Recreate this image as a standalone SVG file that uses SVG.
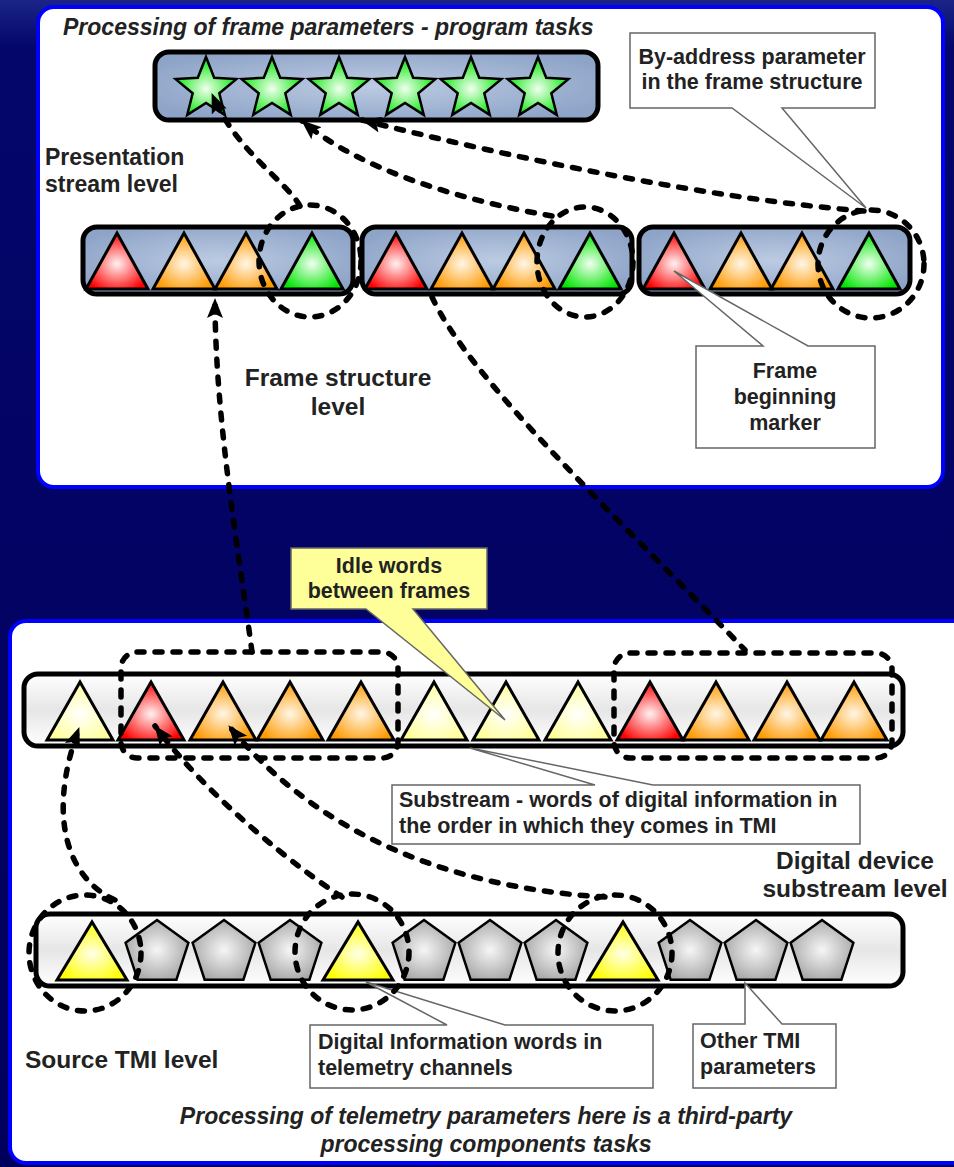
<svg xmlns="http://www.w3.org/2000/svg" xmlns:xlink="http://www.w3.org/1999/xlink" width="954" height="1167" viewBox="0 0 954 1167">
<defs>
  <linearGradient id="bg" x1="0" y1="0" x2="0" y2="1">
    <stop offset="0" stop-color="#1a2488"/>
    <stop offset="0.04" stop-color="#04066a"/>
    <stop offset="1" stop-color="#00005c"/>
  </linearGradient>
  <radialGradient id="gBar" cx="0.5" cy="0.5" r="0.6">
    <stop offset="0" stop-color="#bccbe2"/>
    <stop offset="1" stop-color="#8da3c7"/>
  </radialGradient>
  <linearGradient id="gLight" x1="0" y1="0" x2="0" y2="1">
    <stop offset="0" stop-color="#ffffff"/>
    <stop offset="0.5" stop-color="#e6e6e6"/>
    <stop offset="1" stop-color="#ffffff"/>
  </linearGradient>
  <radialGradient id="gRed" cx="0.5" cy="0.55" r="0.55">
    <stop offset="0" stop-color="#fff2f2"/>
    <stop offset="1" stop-color="#ff0000"/>
  </radialGradient>
  <radialGradient id="gOrange" cx="0.5" cy="0.55" r="0.55">
    <stop offset="0" stop-color="#fff6e6"/>
    <stop offset="1" stop-color="#ff9900"/>
  </radialGradient>
  <radialGradient id="gGreen" cx="0.5" cy="0.55" r="0.55">
    <stop offset="0" stop-color="#f0fff0"/>
    <stop offset="1" stop-color="#00e600"/>
  </radialGradient>
  <radialGradient id="gPale" cx="0.5" cy="0.55" r="0.55">
    <stop offset="0" stop-color="#ffffff"/>
    <stop offset="1" stop-color="#ffff99"/>
  </radialGradient>
  <radialGradient id="gYellow" cx="0.5" cy="0.55" r="0.55">
    <stop offset="0" stop-color="#ffffe8"/>
    <stop offset="1" stop-color="#ffff00"/>
  </radialGradient>
  <radialGradient id="gGray" cx="0.5" cy="0.5" r="0.55">
    <stop offset="0" stop-color="#f6f6f6"/>
    <stop offset="1" stop-color="#a6a6a6"/>
  </radialGradient>
  <path id="star" d="M0,-32 L8.2,-11.3 L30.4,-9.9 L13.3,4.3 L18.8,25.9 L0,14 L-18.8,25.9 L-13.3,4.3 L-30.4,-9.9 L-8.2,-11.3 Z"/>
  <path id="triF" d="M-31,28 L0,-28 L31,28 Z"/>
  <path id="triS" d="M-33,29 L0,-29 L33,29 Z"/>
  <path id="triT" d="M-35,29 L0,-29 L35,29 Z"/>
  <path id="pent" d="M0,-33 L31.4,-10.2 L19.4,26.7 L-19.4,26.7 L-31.4,-10.2 Z"/>
  <marker id="arrow" markerUnits="userSpaceOnUse" markerWidth="22" markerHeight="18" refX="19" refY="8" orient="auto">
    <path d="M0,0 L20,8 L0,16 L4,8 Z" fill="#000"/>
  </marker>
  <style>
    .panel{fill:#ffffff;stroke:#0000ff;stroke-width:4}
    .bar{fill:url(#gBar);stroke:#000;stroke-width:5}
    .lbar{fill:url(#gLight);stroke:#000;stroke-width:5}
    .sh{stroke:#000;stroke-width:3;stroke-linejoin:miter}
    .thin{stroke:#000;stroke-width:2.5;stroke-linejoin:miter}
    .red{fill:url(#gRed)} .orange{fill:url(#gOrange)} .green{fill:url(#gGreen)}
    .pale{fill:url(#gPale)} .yellow{fill:url(#gYellow)} .gray{fill:url(#gGray)}
    .call{fill:#ffffff;stroke:#666;stroke-width:1.5}
    .callY{fill:#ffff99;stroke:#666;stroke-width:1.5}
    .dash{fill:none;stroke:#000;stroke-width:5.5;stroke-dasharray:7 11;stroke-linecap:round}
    .t{font-family:"Liberation Sans",Arial,sans-serif;font-weight:bold;fill:#222}
    .c{font-size:21.5px}
    .lv{font-size:24.5px}
    .it{font-size:23px;font-style:italic}
    .mid{text-anchor:middle}
  </style>
</defs>

<rect x="0" y="0" width="954" height="1167" fill="url(#bg)"/>

<g id="panel-top"><rect class="panel" x="38" y="7" width="905" height="480" rx="16"/></g>
<g id="panel-bottom"><rect class="panel" x="10" y="621" width="970" height="542" rx="16"/></g>

<g id="title-top"><text class="t it" x="63" y="35">Processing of frame parameters - program tasks</text></g>

<g id="star-bar">
  <rect class="bar" x="155" y="52" width="443" height="68" rx="14"/>
  <use xlink:href="#star" class="green thin" x="206" y="89"/>
  <use xlink:href="#star" class="green thin" x="272" y="89"/>
  <use xlink:href="#star" class="green thin" x="339" y="89"/>
  <use xlink:href="#star" class="green thin" x="405" y="89"/>
  <use xlink:href="#star" class="green thin" x="471" y="89"/>
  <use xlink:href="#star" class="green thin" x="538" y="89"/>
</g>

<g id="label-presentation"><text class="t" style="font-size:23px" x="45" y="165">Presentation</text><text class="t" style="font-size:23px" x="45" y="192">stream level</text></g>

<g id="frame-1">
  <rect class="bar" x="83" y="227" width="270" height="67" rx="14"/>
  <use xlink:href="#triF" class="red sh" x="117" y="261"/>
  <use xlink:href="#triF" class="orange sh" x="184" y="261"/>
  <use xlink:href="#triF" class="orange sh" x="246" y="261"/>
  <use xlink:href="#triF" class="green sh" x="312" y="261"/>
</g>
<g id="frame-2">
  <rect class="bar" x="362" y="227" width="270" height="67" rx="14"/>
  <use xlink:href="#triF" class="red sh" x="396" y="261"/>
  <use xlink:href="#triF" class="orange sh" x="462" y="261"/>
  <use xlink:href="#triF" class="orange sh" x="524" y="261"/>
  <use xlink:href="#triF" class="green sh" x="590" y="261"/>
</g>
<g id="frame-3">
  <rect class="bar" x="639" y="227" width="271" height="67" rx="14"/>
  <use xlink:href="#triF" class="red sh" x="674" y="261"/>
  <use xlink:href="#triF" class="orange sh" x="741" y="261"/>
  <use xlink:href="#triF" class="orange sh" x="802" y="261"/>
  <use xlink:href="#triF" class="green sh" x="869" y="261"/>
</g>

<g id="callout-byaddress">
  <path class="call" d="M630,33 H875 V108 H782 L866,208 L732,108 H630 Z"/>
  <text class="t c mid" x="752" y="64">By-address parameter</text>
  <text class="t c mid" x="752" y="89">in the frame structure</text>
</g>

<g id="callout-frame-beginning">
  <path class="call" d="M696,346 H763 L674,271 L808,346 H875 V448 H696 Z"/>
  <text class="t c mid" x="785" y="378">Frame</text>
  <text class="t c mid" x="785" y="404">beginning</text>
  <text class="t c mid" x="785" y="430">marker</text>
</g>

<g id="label-frame-structure"><text class="t lv mid" x="338" y="386">Frame structure</text><text class="t lv mid" x="338" y="415">level</text></g>

<g id="substream-bar">
  <rect class="lbar" x="24" y="674" width="879" height="72" rx="14"/>
  <use xlink:href="#triS" class="pale sh" x="80" y="711"/>
  <use xlink:href="#triS" class="red sh" x="151" y="711"/>
  <use xlink:href="#triS" class="orange sh" x="223" y="711"/>
  <use xlink:href="#triS" class="orange sh" x="290" y="711"/>
  <use xlink:href="#triS" class="orange sh" x="361" y="711"/>
  <use xlink:href="#triS" class="pale sh" x="434" y="711"/>
  <use xlink:href="#triS" class="pale sh" x="506" y="711"/>
  <use xlink:href="#triS" class="pale sh" x="578" y="711"/>
  <use xlink:href="#triS" class="red sh" x="650" y="711"/>
  <use xlink:href="#triS" class="orange sh" x="716" y="711"/>
  <use xlink:href="#triS" class="orange sh" x="787" y="711"/>
  <use xlink:href="#triS" class="orange sh" x="854" y="711"/>
</g>

<g id="callout-idle">
  <path class="callY" d="M291,548 H487 V609 H413 L505,720 L366,609 H291 Z"/>
  <text class="t c mid" x="389" y="573">Idle words</text>
  <text class="t c mid" x="389" y="598">between frames</text>
</g>

<g id="callout-substream">
  <path class="call" d="M392,785 H595 L470,748 L653,785 H860 V844 H392 Z"/>
  <text class="t c" x="399" y="807">Substream - words of digital information in</text>
  <text class="t c" x="399" y="833">the order in which they comes in TMI</text>
</g>

<g id="label-digital-device"><text class="t lv mid" x="855" y="869">Digital device</text><text class="t lv mid" x="855" y="897">substream level</text></g>

<g id="source-bar">
  <rect class="lbar" x="36" y="914" width="867" height="72" rx="14"/>
  <use xlink:href="#triT" class="yellow sh" x="92" y="951"/>
  <use xlink:href="#pent" class="gray thin" x="157" y="953"/>
  <use xlink:href="#pent" class="gray thin" x="224" y="953"/>
  <use xlink:href="#pent" class="gray thin" x="290" y="953"/>
  <use xlink:href="#triT" class="yellow sh" x="358" y="951"/>
  <use xlink:href="#pent" class="gray thin" x="424" y="953"/>
  <use xlink:href="#pent" class="gray thin" x="490" y="953"/>
  <use xlink:href="#pent" class="gray thin" x="556" y="953"/>
  <use xlink:href="#triT" class="yellow sh" x="623" y="951"/>
  <use xlink:href="#pent" class="gray thin" x="690" y="953"/>
  <use xlink:href="#pent" class="gray thin" x="756" y="953"/>
  <use xlink:href="#pent" class="gray thin" x="822" y="953"/>
</g>

<g id="callout-digital-info">
  <path class="call" d="M310,1025 H447 L366,982 L505,1025 H653 V1088 H310 Z"/>
  <text class="t c" x="318" y="1049">Digital Information words in</text>
  <text class="t c" x="318" y="1075">telemetry channels</text>
</g>

<g id="callout-other-tmi">
  <path class="call" d="M693,1024 H745 L745,983 L782,1024 H836 V1088 H693 Z"/>
  <text class="t c" x="700" y="1048">Other TMI</text>
  <text class="t c" x="700" y="1074">parameters</text>
</g>

<g id="label-source"><text class="t lv" x="25" y="1068">Source TMI level</text></g>

<g id="title-bottom">
  <text class="t it mid" x="486" y="1124">Processing of telemetry parameters here is a third-party</text>
  <text class="t it mid" x="486" y="1152">processing components tasks</text>
</g>

<g id="connectors">
  <ellipse class="dash" cx="310" cy="261" rx="51" ry="56"/>
  <ellipse class="dash" cx="585" cy="262" rx="48" ry="55"/>
  <ellipse class="dash" cx="871" cy="264" rx="53" ry="54"/>
  <rect class="dash" x="121" y="652" width="277" height="106" rx="16"/>
  <rect class="dash" x="614" y="653" width="278" height="105" rx="16"/>
  <ellipse class="dash" cx="85" cy="953" rx="56" ry="58"/>
  <ellipse class="dash" cx="352" cy="952" rx="57" ry="58"/>
  <ellipse class="dash" cx="615" cy="953" rx="57" ry="58"/>

  <path class="dash" d="M300,206 C285,180 235,150 212,94" marker-end="url(#arrow)"/>
  <path class="dash" d="M552,216 C460,200 360,170 302,121" marker-end="url(#arrow)"/>
  <path class="dash" d="M864,211 C720,200 520,160 362,120" marker-end="url(#arrow)"/>
  <path class="dash" d="M252,652 C240,560 215,420 215,299" marker-end="url(#arrow)"/>
  <path class="dash" d="M432,297 C470,380 620,520 745,650"/>
  <path class="dash" d="M115,900 C70,880 45,820 79,728" marker-end="url(#arrow)"/>
  <path class="dash" d="M342,897 C300,870 210,800 155,726" marker-end="url(#arrow)"/>
  <path class="dash" d="M605,897 C480,890 330,850 229,726" marker-end="url(#arrow)"/>
</g>
</svg>
